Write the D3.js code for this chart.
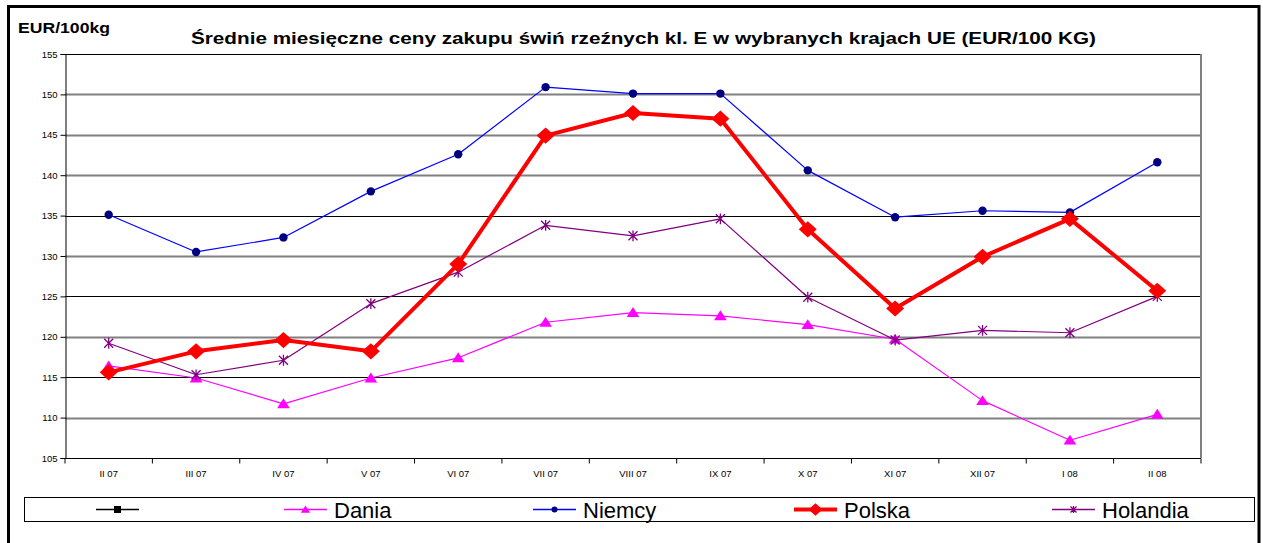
<!DOCTYPE html>
<html>
<head>
<meta charset="utf-8">
<script src="https://cdn.jsdelivr.net/npm/d3@7.9.0/dist/d3.min.js"></script>
<style>
  body { margin: 0; background: #fff; }
  svg { display: block; font-family: "Liberation Sans", Arial, sans-serif; }
</style>
</head>
<body>
<svg id="chart" width="1263" height="543"></svg>
<script>
const months = ['II 07', 'III 07', 'IV 07', 'V 07', 'VI 07', 'VII 07', 'VIII 07', 'IX 07', 'X 07', 'XI 07', 'XII 07', 'I 08', 'II 08'];
const dania = [116.4, 114.9, 111.7, 114.9, 117.4, 121.8, 123.0, 122.6, 121.5, 119.7, 112.1, 107.2, 110.4];
const niemcy = [135.1, 130.5, 132.3, 138.0, 142.6, 150.9, 150.1, 150.1, 140.6, 134.8, 135.6, 135.4, 141.6];
const polska = [115.6, 118.2, 119.6, 118.2, 129.0, 144.9, 147.7, 147.0, 133.3, 123.5, 129.9, 134.6, 125.7];
const holandia = [119.2, 115.3, 117.1, 124.1, 128.0, 133.8, 132.5, 134.6, 124.9, 119.6, 120.8, 120.5, 125.0];
const yTicks = [105, 110, 115, 120, 125, 130, 135, 140, 145, 150, 155];
const legendNames = ['', 'Dania', 'Niemcy', 'Polska', 'Holandia'];

const svg = d3.select('#chart');
const plot = { left: 65, right: 1201, top: 54, bottom: 458 };

// outer frame (bottom edge runs off the picture)
svg.append('path')
  .attr('d', 'M8.5,560 V6.5 H1259 V560')
  .attr('fill', 'none')
  .attr('stroke', '#000')
  .attr('stroke-width', 3);

const x = d3.scaleBand().domain(months).range([plot.left, plot.right]);
const y = d3.scaleLinear().domain([105, 155]).range([plot.bottom, plot.top]);
const cx = (d) => x(d) + x.bandwidth() / 2;

// grid lines
const darkLine = (d) => d === 155 || (d % 10 === 5 && d < 140);
svg.append('g')
  .selectAll('line')
  .data(yTicks.filter((v) => v > 105))
  .join('line')
  .attr('x1', plot.left)
  .attr('x2', plot.right)
  .attr('y1', (d) => Math.round(y(d)) + 0.5)
  .attr('y2', (d) => Math.round(y(d)) + 0.5)
  .attr('stroke', (d) => (darkLine(d) ? '#000' : '#808080'))
  .attr('stroke-width', (d) => (darkLine(d) ? 1 : 2));

// right border of plot
svg.append('line')
  .attr('x1', plot.right).attr('x2', plot.right)
  .attr('y1', plot.top).attr('y2', plot.bottom)
  .attr('stroke', '#808080').attr('stroke-width', 2);

// y axis
const yAxis = svg.append('g')
  .attr('transform', `translate(${plot.left + 0.5},0)`)
  .call(d3.axisLeft(y).tickValues(yTicks).tickSize(5).tickPadding(3));
yAxis.selectAll('text').attr('font-size', 9.5).attr('fill', '#000').attr('font-family', 'Liberation Sans, Arial, sans-serif');
yAxis.selectAll('line, path').attr('stroke', '#000');

// x axis with ticks between categories
const xAxis = svg.append('g')
  .attr('transform', `translate(0,${plot.bottom + 0.5})`);
xAxis.append('line')
  .attr('x1', plot.left).attr('x2', plot.right)
  .attr('stroke', '#000');
xAxis.selectAll('.tick')
  .data(months.concat(['end']))
  .join('line')
  .attr('class', 'tick')
  .attr('x1', (d, i) => plot.left + i * x.bandwidth())
  .attr('x2', (d, i) => plot.left + i * x.bandwidth())
  .attr('y1', 0).attr('y2', 5)
  .attr('stroke', '#000');
xAxis.selectAll('text')
  .data(months)
  .join('text')
  .attr('x', cx)
  .attr('y', 18)
  .attr('text-anchor', 'middle')
  .attr('font-size', 9.5)
  .text((d) => d);

// marker shapes
function marker(sel, kind, s, color) {
  if (kind === 'circle') {
    sel.append('circle').attr('r', s).attr('fill', color);
  } else if (kind === 'triangle') {
    sel.append('path').attr('d', `M0,${-s} L${s * 1.15},${s * 0.8} L${-s * 1.15},${s * 0.8} Z`).attr('fill', color);
  } else if (kind === 'diamond') {
    sel.append('path').attr('d', `M0,${-s * 0.9} L${s},0 L0,${s * 0.9} L${-s},0 Z`).attr('fill', color);
  } else if (kind === 'star') {
    sel.append('path')
      .attr('d', `M${-s},${-s} L${s},${s} M${-s},${s} L${s},${-s} M0,${-s * 1.2} V${s * 1.2}`)
      .attr('stroke', color).attr('stroke-width', 1.3).attr('fill', 'none');
  } else if (kind === 'square') {
    sel.append('rect').attr('x', -s).attr('y', -s).attr('width', 2 * s).attr('height', 2 * s).attr('fill', color);
  }
}

const series = [
  { values: dania, line: '#FF00FF', mark: '#FF00FF', width: 1.2, kind: 'triangle', size: 5.5 },
  { values: niemcy, line: '#0000FF', mark: '#000080', width: 1.2, kind: 'circle', size: 4.2 },
  { values: holandia, line: '#800080', mark: '#800080', width: 1.2, kind: 'star', size: 4.5 },
  { values: polska, line: '#FF0000', mark: '#FF0000', width: 4, kind: 'diamond', size: 9 }
];

const lineGen = d3.line().x((d, i) => cx(months[i])).y((d) => y(d));

series.forEach((s) => {
  svg.append('path')
    .attr('d', lineGen(s.values))
    .attr('fill', 'none')
    .attr('stroke', s.line)
    .attr('stroke-width', s.width)
    .attr('stroke-linejoin', 'round');
  s.values.forEach((v, i) => {
    const g = svg.append('g').attr('transform', `translate(${cx(months[i])},${y(v)})`);
    marker(g, s.kind, s.size, s.mark);
  });
});

// titles
svg.append('text')
  .attr('x', 18).attr('y', 33)
  .attr('font-size', 15).attr('font-weight', 'bold')
  .attr('textLength', 92).attr('lengthAdjust', 'spacingAndGlyphs')
  .text('EUR/100kg');

svg.append('text')
  .attr('x', 191).attr('y', 44)
  .attr('font-size', 17).attr('font-weight', 'bold')
  .attr('textLength', 905).attr('lengthAdjust', 'spacingAndGlyphs')
  .text('Średnie miesięczne ceny zakupu świń rzeźnych kl. E w wybranych krajach UE (EUR/100 KG)');

// legend
svg.append('rect')
  .attr('x', 24.5).attr('y', 497.5)
  .attr('width', 1230).attr('height', 24)
  .attr('fill', '#fff').attr('stroke', '#000');

const legendItems = [
  { name: legendNames[0], x0: 96, line: '#000', mark: '#000', width: 1.5, kind: 'square', size: 3.5 },
  { name: legendNames[1], x0: 284, line: '#FF00FF', mark: '#FF00FF', width: 1.5, kind: 'triangle', size: 4 },
  { name: legendNames[2], x0: 533, line: '#0000FF', mark: '#000080', width: 1.5, kind: 'circle', size: 3 },
  { name: legendNames[3], x0: 794, line: '#FF0000', mark: '#FF0000', width: 4, kind: 'diamond', size: 7 },
  { name: legendNames[4], x0: 1052, line: '#800080', mark: '#800080', width: 1.5, kind: 'star', size: 3 }
];

const ly = 509.5;
legendItems.forEach((it) => {
  svg.append('line')
    .attr('x1', it.x0).attr('x2', it.x0 + 43)
    .attr('y1', ly).attr('y2', ly)
    .attr('stroke', it.line).attr('stroke-width', it.width);
  const g = svg.append('g').attr('transform', `translate(${it.x0 + 21.5},${ly})`);
  marker(g, it.kind, it.size, it.mark);
  if (it.name) {
    svg.append('text')
      .attr('x', it.x0 + 50).attr('y', ly + 8)
      .attr('font-size', 22)
      .text(it.name);
  }
});
</script>
</body>
</html>
